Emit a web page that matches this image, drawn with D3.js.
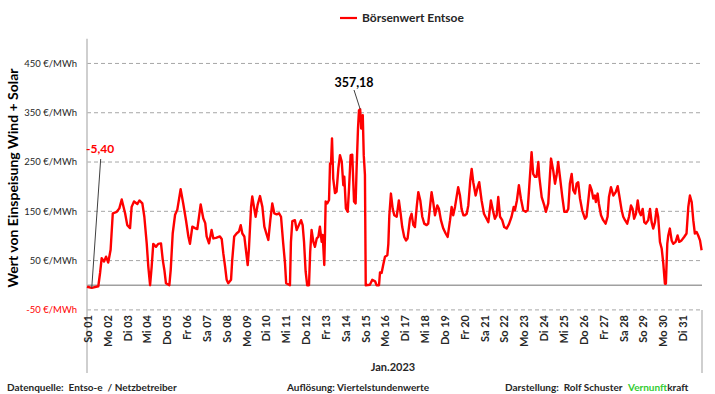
<!DOCTYPE html>
<html>
<head>
<meta charset="utf-8">
<script src="https://cdn.jsdelivr.net/npm/d3@7"></script>
<style>
  body { margin: 0; background: #fff; }
  text { font-family: Lato, "Open Sans", sans-serif; }
</style>
</head>
<body>
<script>
// Tagesbeschriftungen (Jan. 2023 beginnt am Sonntag)
var dayLabels = ["So 01","Mo 02","Di 03","Mi 04","Do 05","Fr 06","Sa 07","So 08","Mo 09","Di 10",
  "Mi 11","Do 12","Fr 13","Sa 14","So 15","Mo 16","Di 17","Mi 18","Do 19","Fr 20",
  "Sa 21","So 22","Mo 23","Di 24","Mi 25","Do 26","Fr 27","Sa 28","So 29","Mo 30","Di 31"];
var yTicks = [450, 350, 250, 150, 50, -50];

// Zeitpunkt in Tagen ab 01.01. 00:00 und Börsenwert in €/MWh
var zeit = [0,0.24,0.57,0.66,0.74,0.86,0.96,1.07,1.19,1.30,1.50,1.63,1.75,1.92,2.03,2.17,2.25,2.37,2.54,2.64,
  2.79,2.89,3.01,3.09,3.18,3.26,3.34,3.48,3.59,3.73,3.82,3.90,3.98,4.15,4.22,4.32,4.44,4.55,4.72,4.85,
  4.99,5.11,5.19,5.31,5.44,5.56,5.73,5.86,5.96,6.03,6.15,6.28,6.37,6.50,6.70,6.79,6.87,6.96,7.04,7.12,
  7.26,7.32,7.42,7.54,7.66,7.75,7.83,7.93,8.01,8.10,8.16,8.27,8.33,8.40,8.50,8.60,8.72,8.84,8.94,9.04,
  9.14,9.24,9.34,9.44,9.56,9.68,9.78,9.89,9.98,10.04,10.23,10.28,10.35,10.48,10.57,10.68,10.79,10.87,10.94,11.02,
  11.10,11.19,11.25,11.32,11.41,11.49,11.58,11.66,11.74,11.83,11.88,11.96,12.00,12.03,12.11,12.20,12.25,12.30,12.35,12.41,
  12.50,12.58,12.67,12.75,12.84,12.92,12.97,13.05,13.14,13.20,13.29,13.37,13.46,13.54,13.59,13.66,13.71,13.77,13.82,13.90,
  13.95,14.01,14.05,14.26,14.38,14.52,14.60,14.72,14.77,14.85,14.93,15.02,15.14,15.19,15.24,15.32,15.41,15.49,15.61,15.72,
  15.81,15.89,15.99,16.08,16.16,16.28,16.36,16.45,16.53,16.62,16.70,16.80,16.90,17.00,17.12,17.20,17.29,17.37,17.45,17.54,
  17.66,17.74,17.84,17.96,18.08,18.18,18.30,18.38,18.46,18.55,18.63,18.71,18.80,18.88,18.97,19.05,19.14,19.22,19.32,19.39,
  19.47,19.59,19.69,19.77,19.89,20.01,20.14,20.23,20.36,20.46,20.56,20.65,20.73,20.82,20.93,21.03,21.15,21.27,21.40,21.51,
  21.57,21.67,21.77,21.87,21.99,22.11,22.21,22.28,22.36,22.41,22.49,22.58,22.66,22.75,22.80,22.92,23.05,23.13,23.25,23.34,
  23.39,23.50,23.59,23.67,23.75,23.84,23.96,24.06,24.18,24.26,24.34,24.43,24.51,24.60,24.68,24.76,24.85,24.96,25.10,25.18,
  25.27,25.35,25.44,25.52,25.60,25.65,25.74,25.80,25.91,26.02,26.14,26.24,26.31,26.41,26.53,26.65,26.75,26.83,26.95,27.03,
  27.12,27.23,27.32,27.42,27.50,27.58,27.67,27.76,27.84,27.92,28.01,28.09,28.17,28.29,28.38,28.46,28.54,28.63,28.71,28.79,
  28.88,28.97,29.05,29.13,29.18,29.25,29.30,29.38,29.47,29.55,29.67,29.77,29.85,29.97,30.10,30.22,30.31,30.39,30.48,30.56,
  30.64,30.73,30.81,30.90,30.98];
var preis = [-3,-5.4,-2,25,55,48,58,46,72,146,149,156,174,146,122,116,159,170,165,172,
  166,139,85,38,0,38,84,78,84,85,51,31,4,0,31,105,143,153,195,166,
  132,99,84,119,116,114,164,136,126,99,85,112,95,96,99,94,65,38,11,4,
  11,51,99,105,109,122,105,99,72,41,72,159,180,163,139,163,181,159,119,105,
  92,132,166,146,144,146,139,85,45,4,0,88,130,132,112,122,132,122,88,28,
  0,0,68,112,88,78,95,98,119,88,102,41,109,170,166,173,247,247,298,217,
  187,190,237,264,251,203,220,156,149,190,264,265,170,166,237,318,355,357.18,318,345,
  264,224,0,1,11,8,0,0,26,25,41,58,61,84,142,186,155,142,139,172,
  145,118,98,91,95,135,145,122,118,159,189,172,139,125,122,125,159,189,169,142,
  162,155,132,115,105,98,132,159,142,159,179,199,182,155,142,142,145,162,213,236,
  209,182,199,209,172,145,135,128,172,152,135,142,179,139,132,118,115,124,139,159,
  152,172,203,176,152,149,152,193,240,270,226,220,220,250,220,179,162,149,166,226,
  257,233,206,223,250,220,179,149,149,155,206,226,193,186,206,209,176,152,135,139,
  172,203,193,176,182,169,186,166,142,132,125,139,179,199,182,189,201,182,152,139,
  132,125,139,162,155,135,145,172,149,142,155,128,125,132,155,128,115,128,155,139,
  88,74,44,3,3,84,101,115,91,84,88,101,88,91,98,105,159,182,169,132,
  105,108,101,91,71];

var w = 715, h = 394;
var plotLeft = 87, plotRight = 702, plotTop = 38.8, plotBottom = 309.9;

var svg = d3.select("body").append("svg")
  .attr("width", w).attr("height", h);

var xScale = d3.scaleLinear().domain([0, 31]).range([plotLeft, plotRight]);
var yScale = d3.scaleLinear().domain([-50, 500]).range([plotBottom, plotTop]);

/**** Gitterlinien ****/
svg.selectAll("line.grid")
  .data(yTicks)
  .enter().append("line")
  .attr("class", "grid")
  .attr("x1", plotLeft).attr("x2", plotRight)
  .attr("y1", function(d){ return yScale(d); })
  .attr("y2", function(d){ return yScale(d); })
  .attr("stroke", "#a6a6a6")
  .attr("stroke-width", 1)
  .attr("stroke-dasharray", "4,3");

// Nulllinie
svg.append("line")
  .attr("x1", plotLeft).attr("x2", plotRight)
  .attr("y1", yScale(0)).attr("y2", yScale(0))
  .attr("stroke", "#a0a0a0").attr("stroke-width", 1.3);

// Achsenlinien (links und rechter Abschluss der Kategorienbeschriftung)
svg.append("line")
  .attr("x1", plotLeft).attr("x2", plotLeft)
  .attr("y1", plotTop).attr("y2", 373)
  .attr("stroke", "#bfbfbf").attr("stroke-width", 1.5);
svg.append("line")
  .attr("x1", plotRight).attr("x2", plotRight)
  .attr("y1", plotBottom).attr("y2", 373)
  .attr("stroke", "#bfbfbf").attr("stroke-width", 1.5);

/**** Y-Beschriftung ****/
svg.selectAll("text.ytick")
  .data(yTicks)
  .enter().append("text")
  .attr("class", "ytick")
  .attr("x", 77)
  .attr("y", function(d){ return yScale(d); })
  .attr("dy", "0.35em")
  .attr("text-anchor", "end")
  .attr("font-size", "9.5px")
  .attr("fill", function(d){ return d < 0 ? "#ff0000" : "#262626"; })
  .text(function(d){ return d + " €/MWh"; });

svg.append("text")
  .attr("transform", "translate(18,178) rotate(-90)")
  .attr("text-anchor", "middle")
  .attr("font-size", "14px")
  .attr("font-weight", "bold")
  .attr("fill", "#000")
  .text("Wert von Einspeisung Wind + Solar");

/**** X-Beschriftung ****/
svg.selectAll("text.xtick")
  .data(dayLabels)
  .enter().append("text")
  .attr("class", "xtick")
  .attr("transform", function(d, i){
    return "translate(" + (xScale(i) + 1) + ",315) rotate(-90)";
  })
  .attr("dy", "0.35em")
  .attr("text-anchor", "end")
  .attr("font-size", "11px")
  .attr("font-weight", "bold")
  .attr("fill", "#262626")
  .text(function(d){ return d; });

svg.append("text")
  .attr("x", 393).attr("y", 371)
  .attr("text-anchor", "middle")
  .attr("font-size", "11px")
  .attr("font-weight", "bold")
  .attr("fill", "#262626")
  .text("Jan.2023");

/**** Linie ****/
var series = zeit.map(function(t, i){ return {t: t, v: preis[i]}; });
var line = d3.line()
  .x(function(d){ return xScale(d.t); })
  .y(function(d){ return yScale(d.v); });

svg.append("path")
  .datum(series)
  .attr("d", line)
  .attr("fill", "none")
  .attr("stroke", "#ff0000")
  .attr("stroke-width", 2.4)
  .attr("stroke-linejoin", "round");

/**** Min / Max Beschriftung ****/
var minP = series[d3.minIndex(series, function(d){ return d.v; })];
var maxP = series[d3.maxIndex(series, function(d){ return d.v; })];
var fmt = function(v){ return v.toFixed(2).replace(".", ","); };

svg.append("line")
  .attr("x1", 100.7).attr("y1", 159)
  .attr("x2", xScale(minP.t)).attr("y2", yScale(minP.v))
  .attr("stroke", "#404040").attr("stroke-width", 1);
svg.append("text")
  .attr("x", 86).attr("y", 153)
  .attr("font-size", "12px").attr("font-weight", "bold")
  .attr("fill", "#ff0000")
  .text(fmt(minP.v));

svg.append("line")
  .attr("x1", 354).attr("y1", 90)
  .attr("x2", xScale(maxP.t)).attr("y2", yScale(maxP.v))
  .attr("stroke", "#404040").attr("stroke-width", 1);
svg.append("text")
  .attr("x", 354).attr("y", 86.5)
  .attr("text-anchor", "middle")
  .attr("font-size", "12.5px").attr("font-weight", "bold")
  .attr("fill", "#000")
  .text(fmt(maxP.v));

/**** Legende ****/
svg.append("line")
  .attr("x1", 340).attr("x2", 357).attr("y1", 18).attr("y2", 18)
  .attr("stroke", "#ff0000").attr("stroke-width", 2.2);
svg.append("text")
  .attr("x", 362).attr("y", 22)
  .attr("font-size", "12px").attr("font-weight", "bold")
  .attr("fill", "#262626")
  .text("Börsenwert Entsoe");

/**** Fußzeile ****/
var foot = svg.append("g")
  .attr("font-size", "10px").attr("font-weight", "bold").attr("fill", "#262626");
foot.append("text").attr("x", 7).attr("y", 391)
  .attr("xml:space", "preserve")
  .text("Datenquelle:  Entso-e  / Netzbetreiber");
foot.append("text").attr("x", 287).attr("y", 391)
  .text("Auflösung: Viertelstundenwerte");
foot.append("text").attr("x", 505).attr("y", 391)
  .attr("xml:space", "preserve")
  .text("Darstellung:  Rolf Schuster");
var brand = foot.append("text").attr("x", 628).attr("y", 391);
brand.append("tspan").attr("fill", "#33cc33").text("Vernunft");
brand.append("tspan").attr("fill", "#262626").text("kraft");
</script>
</body>
</html>
